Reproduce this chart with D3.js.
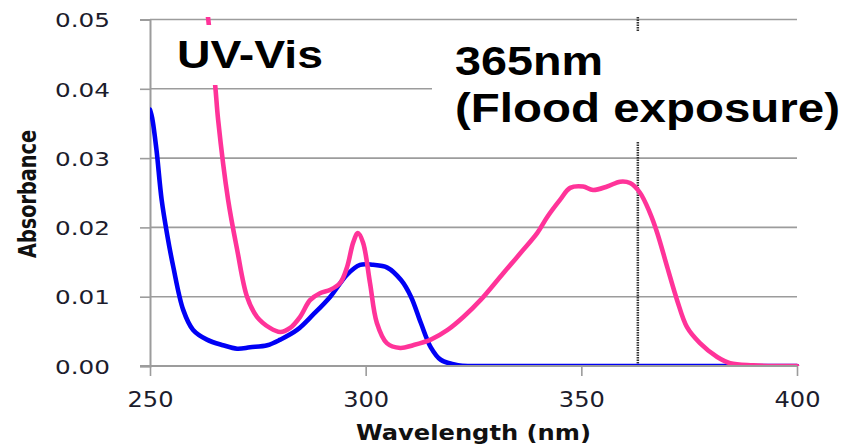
<!DOCTYPE html>
<html>
<head>
<meta charset="utf-8">
<script src="https://cdn.jsdelivr.net/npm/d3@7"></script>
<style>
  html, body { margin: 0; padding: 0; background: #fff; }
  svg { display: block; }
</style>
</head>
<body>
<svg id="chart" width="847" height="445"></svg>
<script>
// ---- Data ----
const xTicks = [250, 300, 350, 400];
const yTicks = [0, 0.01, 0.02, 0.03, 0.04, 0.05];
const xTitle = "Wavelength (nm)";
const yTitle = "Absorbance";
const markerNm = 363.1;

const blueNm = [250, 250.5, 251.5, 252.7, 254, 255.4, 257.7, 260, 263.2, 266.9, 270.2, 273.2, 277.2, 280.2, 284.1, 287.8, 291.8, 295.7, 298.7, 301.7, 305, 308.2, 310.5, 312.8, 315.1, 317.4, 321.4, 325, 340, 360, 380, 400];
const blueAbs = [0.0370, 0.0358, 0.0312, 0.0240, 0.0189, 0.0143, 0.0081, 0.0052, 0.0038, 0.0030, 0.0025, 0.0027, 0.0030, 0.0038, 0.0052, 0.0074, 0.0100, 0.0132, 0.0146, 0.0146, 0.0142, 0.0124, 0.0100, 0.0062, 0.0027, 0.0009, 0.0001, 0, 0, 0, 0, 0];

const pinkNm = [263.3, 265.1, 265.8, 268.1, 270.2, 272.5, 274.8, 277.8, 280.2, 282.5, 284.8, 287.1, 289.4, 291.8, 294.1, 295.7, 297.1, 298.2, 299.4, 301, 302.6, 304.9, 308, 311, 315.1, 319, 322.7, 326.6, 331.9, 335.9, 339.8, 342.1, 345.1, 347.4, 350.4, 352.7, 356, 359, 361.3, 363.6, 365.9, 367.6, 369.9, 372.2, 374.5, 377.5, 381.5, 384.5, 389.8, 395, 400];
const pinkAbs = [0.0512, 0.0406, 0.0355, 0.0240, 0.0168, 0.0100, 0.0071, 0.0055, 0.0049, 0.0055, 0.0071, 0.0095, 0.0105, 0.0110, 0.0120, 0.0143, 0.0178, 0.0192, 0.0178, 0.0120, 0.0062, 0.0033, 0.0026, 0.0030, 0.0038, 0.0052, 0.0071, 0.0095, 0.0134, 0.0163, 0.0192, 0.0215, 0.0240, 0.0257, 0.0259, 0.0254, 0.0259, 0.0266, 0.0264, 0.0250, 0.0221, 0.0192, 0.0143, 0.0095, 0.0056, 0.0033, 0.0013, 0.0004, 0.0001, 0, 0];

// ---- Layout ----
const svg = d3.select("#chart");
const mLeft = 150, mRight = 797, mTop = 19.5, mBottom = 366;
const x = d3.scaleLinear().domain([250, 400]).range([mLeft, mRight]);
const y = d3.scaleLinear().domain([0, 0.05]).range([mBottom, mTop]);
const gridColor = "#9c9c9c";

// gridlines
svg.append("g").selectAll("line").data(yTicks).join("line")
  .attr("x1", mLeft).attr("x2", mRight)
  .attr("y1", d => y(d)).attr("y2", d => y(d))
  .attr("stroke", gridColor).attr("stroke-width", 1.6);

// y axis
const yAxis = svg.append("g").attr("transform", `translate(${mLeft},0)`)
  .call(d3.axisLeft(y).tickValues(yTicks).tickFormat(d3.format(".2f")).tickSize(10).tickPadding(30));
yAxis.select(".domain").attr("stroke", gridColor).attr("stroke-width", 2);
yAxis.selectAll(".tick line").attr("stroke", gridColor).attr("stroke-width", 1.6);
yAxis.selectAll(".tick text")
  .attr("font-family", "DejaVu Sans").attr("font-size", 20).attr("fill", "#1c1c2c")
  .attr("dy", "0.36em").attr("x", -40)
  .attr("textLength", 55).attr("lengthAdjust", "spacingAndGlyphs");

// x axis
const xAxis = svg.append("g").attr("transform", `translate(0,${mBottom})`)
  .call(d3.axisBottom(x).tickValues(xTicks).tickFormat(d3.format("d")).tickSize(10).tickPadding(0));
xAxis.select(".domain").remove();
xAxis.selectAll(".tick line").attr("stroke", gridColor).attr("stroke-width", 1.6);
xAxis.selectAll(".tick text")
  .attr("font-family", "DejaVu Sans").attr("font-size", 22).attr("fill", "#1c1c2c")
  .attr("y", 41).attr("dy", 0)
  .attr("textLength", 46).attr("lengthAdjust", "spacingAndGlyphs");

// marker dashed line
svg.append("line")
  .attr("x1", x(markerNm)).attr("x2", x(markerNm))
  .attr("y1", 17).attr("y2", mBottom)
  .attr("stroke", "#333").attr("stroke-width", 2.5)
  .attr("stroke-dasharray", "1.5,1");

// clip for curves
svg.append("defs").append("clipPath").attr("id", "plotclip")
  .append("rect").attr("x", mLeft).attr("y", 17).attr("width", mRight - mLeft + 3).attr("height", mBottom - 17);

const line = d3.line().x(d => x(d[0])).y(d => y(d[1])).curve(d3.curveCatmullRom.alpha(0.5));
const curves = svg.append("g").attr("clip-path", "url(#plotclip)");
curves.append("path").datum(d3.zip(blueNm, blueAbs))
  .attr("d", line).attr("fill", "none").attr("stroke", "#0000f5").attr("stroke-width", 4.6)
  .attr("stroke-linejoin", "round").attr("stroke-linecap", "round");
curves.append("path").datum(d3.zip(pinkNm, pinkAbs))
  .attr("d", line).attr("fill", "none").attr("stroke", "#ff3399").attr("stroke-width", 4.6)
  .attr("stroke-linejoin", "round").attr("stroke-linecap", "round");

// x axis baseline on top
svg.append("line").attr("x1", mLeft - 10).attr("x2", mRight).attr("y1", mBottom).attr("y2", mBottom)
  .attr("stroke", gridColor).attr("stroke-width", 2.2);

// annotation boxes
svg.append("rect").attr("x", 156).attr("y", 25).attr("width", 260).attr("height", 60).attr("fill", "#fff");
svg.append("rect").attr("x", 432).attr("y", 32).attr("width", 415).attr("height", 109).attr("fill", "#fff");

svg.append("text").attr("x", 177).attr("y", 68)
  .attr("font-family", "Liberation Sans, Arial, sans-serif").attr("font-weight", "bold")
  .attr("font-size", 39).attr("fill", "#000")
  .attr("textLength", 146).attr("lengthAdjust", "spacingAndGlyphs").text("UV-Vis");
svg.append("text").attr("x", 455).attr("y", 75)
  .attr("font-family", "Liberation Sans, Arial, sans-serif").attr("font-weight", "bold")
  .attr("font-size", 41).attr("fill", "#000")
  .attr("textLength", 148).attr("lengthAdjust", "spacingAndGlyphs").text("365nm");
svg.append("text").attr("x", 455).attr("y", 122)
  .attr("font-family", "Liberation Sans, Arial, sans-serif").attr("font-weight", "bold")
  .attr("font-size", 40).attr("fill", "#000")
  .attr("textLength", 385).attr("lengthAdjust", "spacingAndGlyphs").text("(Flood exposure)");

// axis titles
svg.append("text").attr("x", (mLeft + mRight) / 2).attr("y", 440)
  .attr("text-anchor", "middle")
  .attr("font-family", "DejaVu Sans").attr("font-weight", "bold")
  .attr("font-size", 21).attr("fill", "#111")
  .attr("textLength", 235).attr("lengthAdjust", "spacingAndGlyphs").text(xTitle);
svg.append("text")
  .attr("transform", "translate(36,194) scale(1.2,1) rotate(-90)")
  .attr("text-anchor", "middle")
  .attr("font-family", "DejaVu Sans").attr("font-weight", "bold")
  .attr("font-size", 20).attr("fill", "#111")
  .attr("textLength", 128).attr("lengthAdjust", "spacingAndGlyphs").text(yTitle);
</script>
</body>
</html>
